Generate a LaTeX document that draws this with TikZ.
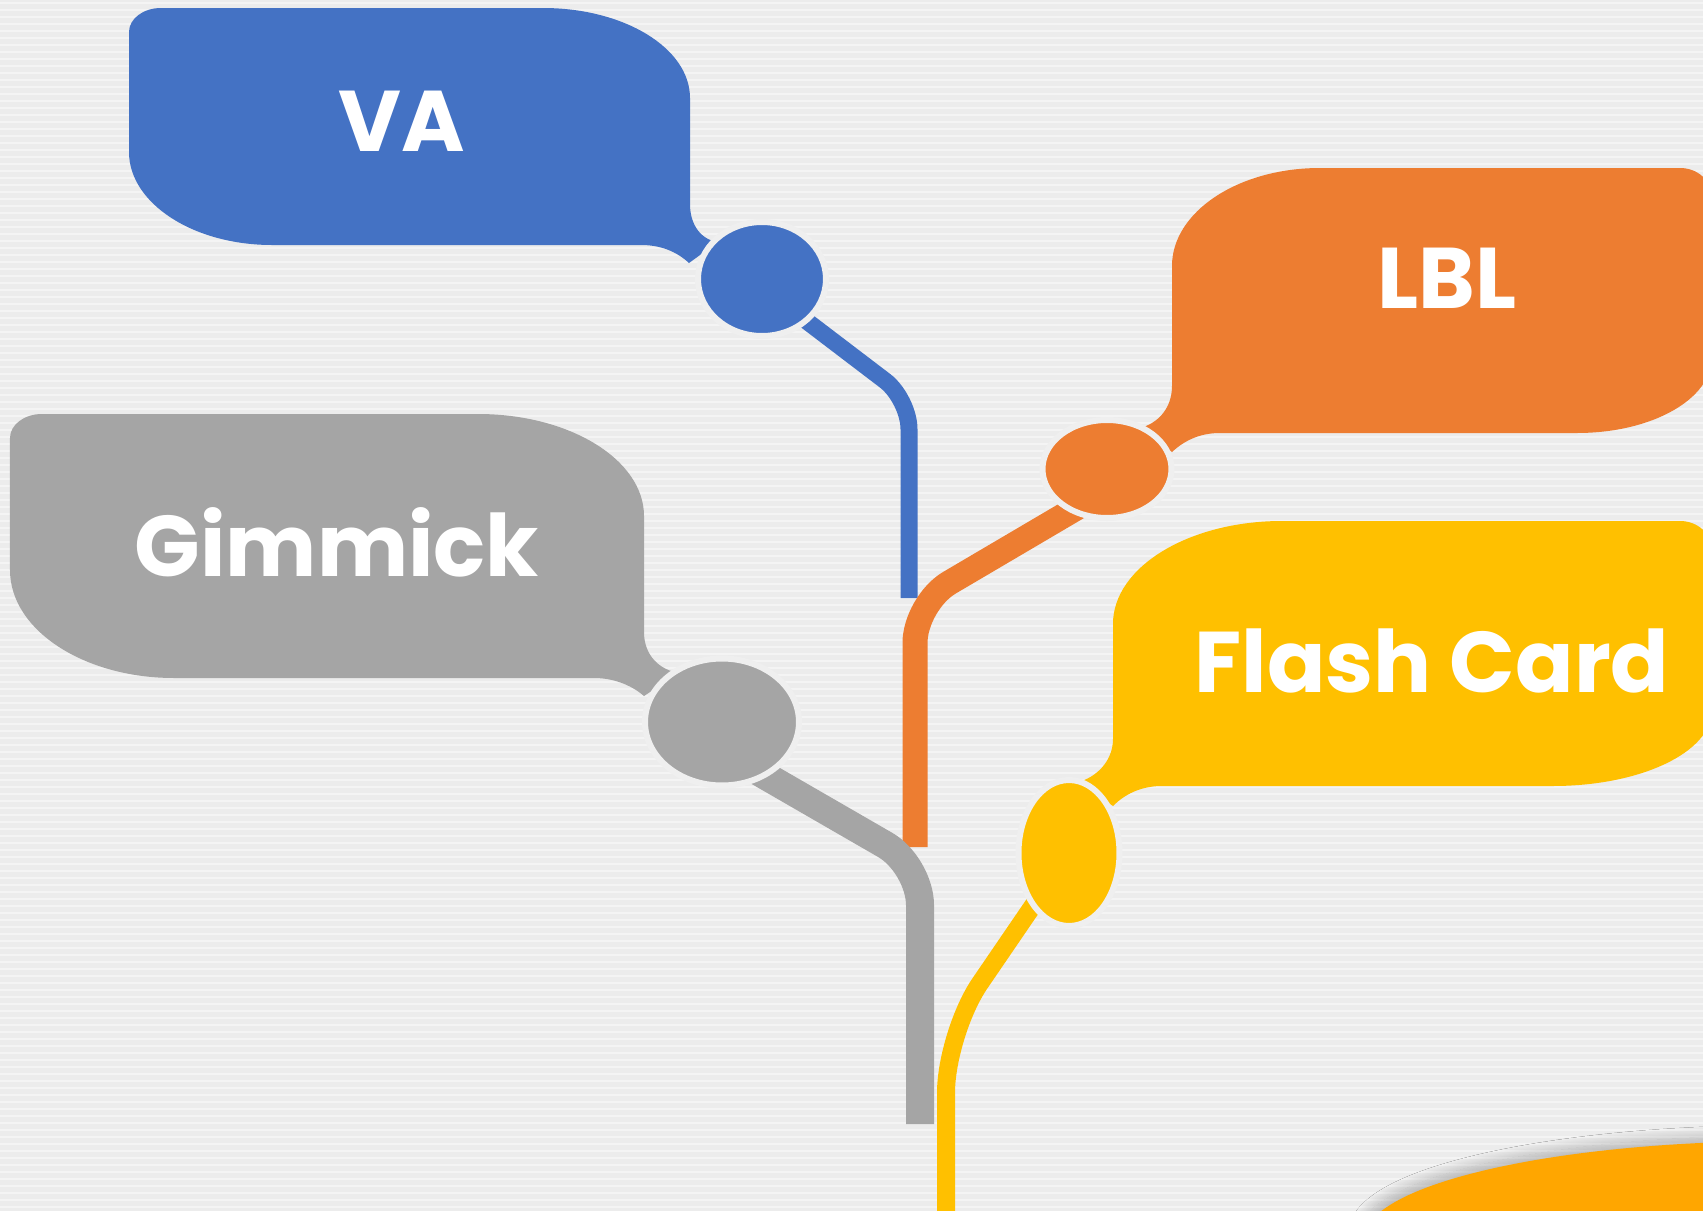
\documentclass[tikz,border=0pt]{standalone}
\usepackage{fontspec}
\setmainfont{Poppins}
\usetikzlibrary{shapes.geometric,shadows.blur}

\definecolor{bgpaper}{RGB}{236,236,236}
\definecolor{papergap}{RGB}{239,239,239}
\definecolor{vablue}{RGB}{68,114,196}
\definecolor{lblorange}{RGB}{237,125,49}
\definecolor{gimgray}{RGB}{165,165,165}
\definecolor{flashyellow}{RGB}{255,192,0}
\definecolor{deeporange}{RGB}{255,166,0}

\tikzset{
  bulb/.style={ellipse, inner sep=0pt, outer sep=0pt, draw=papergap, line width=0.6mm},
  stemline/.style={line width=#1, rounded corners=4mm},
  bubbletext/.style={anchor=base, text=white, font=\fontsize{24.5}{29}\selectfont\bfseries}
}

\begin{document}
\begin{tikzpicture}[x=0.1mm, y=-0.1mm]
\useasboundingbox (0,0) rectangle (1703,1211);
\clip (0,0) rectangle (1703,1211);
\fill [bgpaper] (0,0) rectangle (1703,1211);
% paper streaks
\foreach \y in {3,10,...,1211}
  \draw [white, opacity=0.45, line width=0.25mm] (0,\y) -- (1703,\y);

% stems
\coordinate (vastart) at (762,287);
\coordinate (vabend) at (909,399);
\coordinate (vaend) at (909,598);
\coordinate (lblstart) at (1107,490);
\coordinate (lblbend) at (915,603);
\coordinate (lblend) at (915,847);
\coordinate (gimstart) at (700,738);
\coordinate (gimbend) at (920,865);
\coordinate (gimend) at (920,1124);
\coordinate (flashstart) at (1069,853);
\coordinate (flashbend) at (946,1033);
\coordinate (flashend) at (946,1220);
\draw [stemline=1.7mm, vablue, rounded corners=3mm] (vastart) -- (vabend) -- (vaend);
\draw [stemline=2.5mm, lblorange] (lblstart) -- (lblbend) -- (lblend);
\draw [stemline=2.8mm, gimgray] (gimstart) -- (gimbend) -- (gimend);
\draw [stemline=1.8mm, flashyellow, rounded corners=6mm] (flashstart) -- (flashbend) -- (flashend);

% bubbles
\fill [vablue] (129,32) .. controls (129,19) and (143,8) .. (161,8) -- (543,8)
  .. controls (624,8) and (690,48) .. (690,98) -- (690,204)
  .. controls (690,226) and (702,240) .. (718,242) -- (689,263)
  .. controls (676,251) and (660,245) .. (641,245) -- (272,245)
  .. controls (193,245) and (129,203) .. (129,152) -- cycle;
\fill [gimgray] (10,438) .. controls (10,425) and (24,414) .. (42,414) -- (478,414)
  .. controls (570,414) and (644,460) .. (644,516) -- (644,632)
  .. controls (644,656) and (660,670) .. (679,673) -- (644,696)
  .. controls (630,684) and (612,678) .. (594,678) -- (174,678)
  .. controls (84,678) and (10,630) .. (10,570) -- cycle;
\fill [lblorange] (1172,266) .. controls (1172,212) and (1238,168) .. (1320,168) -- (1680,168)
  .. controls (1698,168) and (1712,181) .. (1712,198) -- (1712,357)
  .. controls (1712,399) and (1652,433) .. (1577,433) -- (1220,433)
  .. controls (1202,433) and (1186,439) .. (1172,452) -- (1140,428)
  .. controls (1156,424) and (1172,410) .. (1172,386) -- cycle;
\fill [flashyellow] (1113,624) .. controls (1113,567) and (1189,521) .. (1282,521) -- (1680,521)
  .. controls (1698,521) and (1712,534) .. (1712,551) -- (1712,710)
  .. controls (1712,752) and (1641,786) .. (1553,786) -- (1162,786)
  .. controls (1144,786) and (1127,792) .. (1113,806) -- (1078,782)
  .. controls (1095,778) and (1113,762) .. (1113,739) -- cycle;
\fill [deeporange, blur shadow={shadow xshift=-1.5pt, shadow yshift=1.5pt, shadow blur radius=3pt, shadow blur steps=20, shadow opacity=25}]
  (1785,1239) ellipse [x radius=42.1mm, y radius=9.8mm];

% dots
\node [bulb, fill=vablue, minimum width=12.8mm, minimum height=11.4mm] (vadot) at (762,279) {};
\node [bulb, fill=lblorange, minimum width=12.9mm, minimum height=9.8mm] (lbldot) at (1107,469) {};
\node [bulb, fill=gimgray, minimum width=15.4mm, minimum height=12.7mm] (gimdot) at (722,722) {};
\node [bulb, fill=flashyellow, minimum width=10.1mm, minimum height=14.6mm] (flashdot) at (1069,853) {};

% labels
\node [bubbletext] (vatext) at (402,151) {VA};
\node [bubbletext] (lbltext) at (1447,308) {LBL};
\node [bubbletext] (gimtext) at (337,576) {Gimmick};
\node [bubbletext] (flashtext) at (1432,692) {Flash Card};
\end{tikzpicture}
\end{document}
